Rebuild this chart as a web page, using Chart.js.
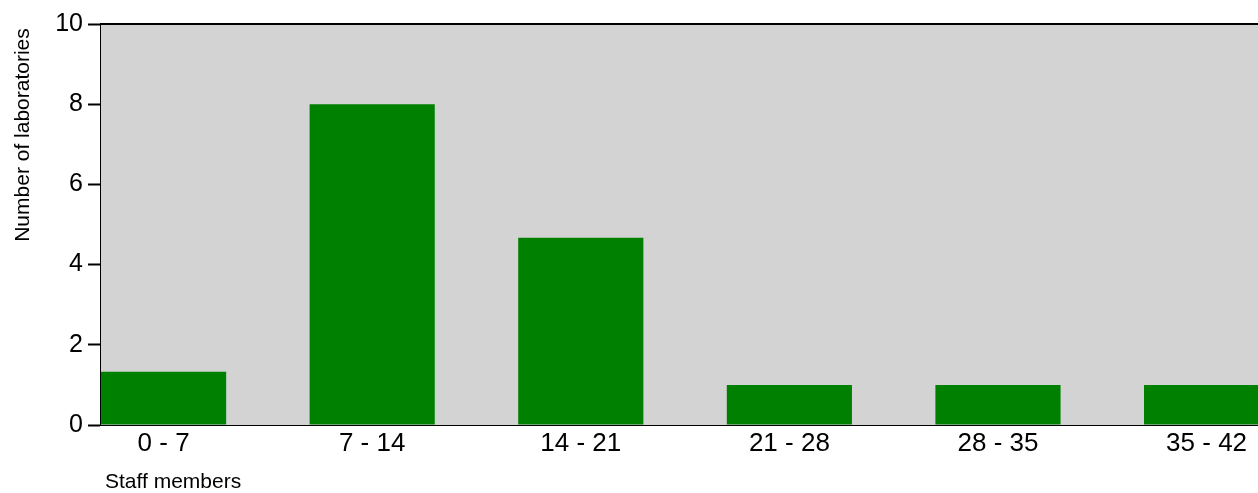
<!DOCTYPE html>
<html>
<head>
<meta charset="utf-8">
<script src="https://cdn.jsdelivr.net/npm/chart.js@4.4.1/dist/chart.umd.min.js"></script>
<style>
  html, body { margin: 0; padding: 0; background: #fff; overflow: hidden; }
  #wrap { width: 1258px; height: 493px; position: relative; }
</style>
</head>
<body>
<div id="wrap"><canvas id="myChart"></canvas></div>
<script>
// Staff size classes and how many labs fall in each
var staffClasses = ['0 - 7', '7 - 14', '14 - 21', '21 - 28', '28 - 35', '35 - 42'];
var labCounts = [1.33, 8, 4.67, 1, 1, 1];

// Y axis ticks
var yTicks = [0, 2, 4, 6, 8, 10];

var xTitle = 'Staff members';
var yTitle = 'Number of laboratories';

var FONT = '"Liberation Sans", Arial, sans-serif';

// each bar sits in the left 60% of its class slot, label centred under the bar
var BAR_SHARE = 0.6;

var ctx = document.getElementById('myChart').getContext('2d');

// grey plot background, top frame line and the two axis titles
var framePlugin = {
    id: 'frame',
    beforeDatasetsDraw: function(chart) {
        var a = chart.chartArea, c = chart.ctx;
        c.save();
        c.fillStyle = '#d3d3d3';
        c.fillRect(a.left, a.top, a.right - a.left, a.bottom - a.top);
        c.restore();
    },
    afterDraw: function(chart) {
        var a = chart.chartArea, c = chart.ctx;
        c.save();
        c.strokeStyle = '#000';
        c.lineWidth = 2;
        c.beginPath();
        c.moveTo(a.left - 1, a.top);
        c.lineTo(a.right, a.top);
        c.stroke();

        c.fillStyle = '#000';
        c.font = '21px ' + FONT;
        c.textBaseline = 'middle';
        c.textAlign = 'left';
        c.fillText(xTitle, 105, 482);

        c.translate(23, 135);
        c.rotate(-Math.PI / 2);
        c.textAlign = 'center';
        c.fillText(yTitle, 0, 0);
        c.restore();
    }
};

var myChart = new Chart(ctx, {
    type: 'bar',
    data: {
        datasets: [{
            data: labCounts.map(function(v, i) { return { x: i + BAR_SHARE / 2, y: v }; }),
            backgroundColor: '#008000',
            borderWidth: 0,
            barPercentage: BAR_SHARE,
            categoryPercentage: 1.0
        }]
    },
    options: {
        responsive: true,
        maintainAspectRatio: false,
        animation: false,
        layout: { padding: { top: 24, right: 0, bottom: 0, left: 0 } },
        font: { family: FONT },
        scales: {
            x: {
                type: 'linear',
                offset: false,
                min: 0,
                max: (1258 - 101) / 208.6,  // plot runs off the right edge
                afterFit: function(scale) { scale.height = 68; },
                afterBuildTicks: function(scale) {
                    scale.ticks = staffClasses.map(function(l, i) { return { value: i + BAR_SHARE / 2 }; });
                },
                grid: { drawOnChartArea: false, drawTicks: false },
                border: { display: true, color: '#000', width: 2 },
                ticks: {
                    autoSkip: false,
                    maxRotation: 0,
                    padding: 3,
                    color: '#000',
                    font: { family: FONT, size: 26 },
                    callback: function(value, index) { return staffClasses[index]; }
                }
            },
            y: {
                min: 0,
                max: 10,
                afterFit: function(scale) { scale.width = 101; },
                afterBuildTicks: function(scale) {
                    scale.ticks = yTicks.map(function(v) { return { value: v }; });
                },
                grid: { drawOnChartArea: false, drawTicks: true, tickLength: 13, tickColor: '#000', tickWidth: 2 },
                border: { display: true, color: '#000', width: 2 },
                ticks: {
                    padding: 5,
                    color: '#000',
                    font: { family: FONT, size: 25 }
                }
            }
        },
        plugins: {
            legend: { display: false },
            tooltip: { enabled: false }
        }
    },
    plugins: [framePlugin]
});
</script>
</body>
</html>
